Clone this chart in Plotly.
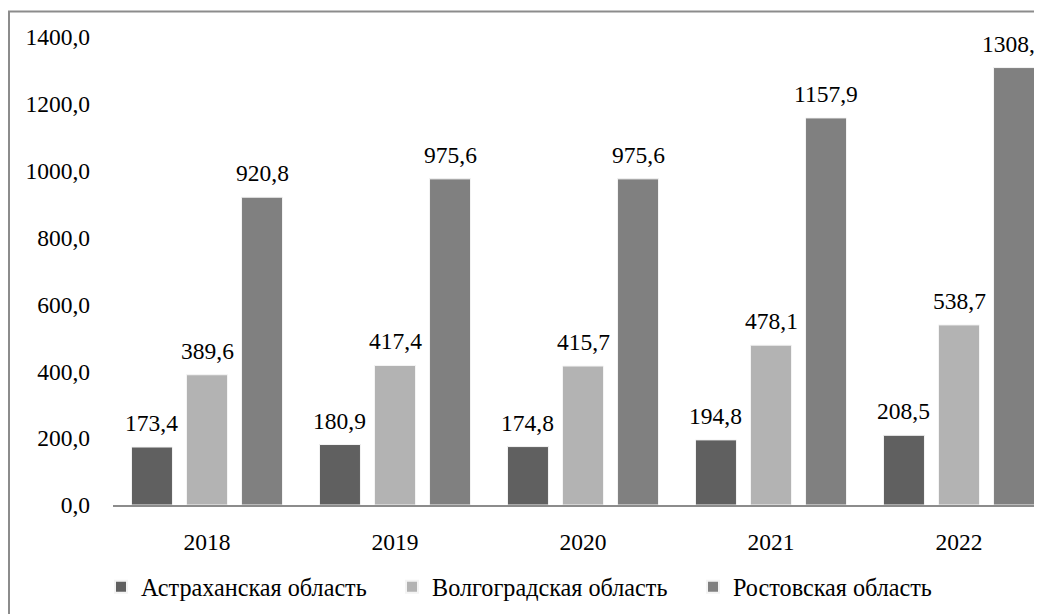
import plotly.graph_objects as go

years = ["2018", "2019", "2020", "2021", "2022"]
series_names = ["Астраханская область", "Волгоградская область", "Ростовская область"]
astrakhan = [173.4, 180.9, 174.8, 194.8, 208.5]
volgograd = [389.6, 417.4, 415.7, 478.1, 538.7]
rostov = [920.8, 975.6, 975.6, 1157.9, 1308.6]
y_ticks = [0, 200, 400, 600, 800, 1000, 1200, 1400]

series_values = [astrakhan, volgograd, rostov]
colors = ["#606060", "#b3b3b3", "#808080"]
legend_widths = [246, 256, 200]

FONT = "Liberation Serif"
FS = 23.5
FS_LEG = 24.2

# page body has an 8px margin; targets below are in screenshot pixels
OFF = 8
W, H = 1042, 614
L = 113 - OFF
T = 36.5 - OFF
AXIS_Y = 505 - OFF
B = H - AXIS_Y
plot_w = W - L
plot_h = H - T - B
cat_px = 188.0

fig = go.Figure()
for name, vals, col, lw in zip(series_names, series_values, colors, legend_widths):
    fig.add_trace(go.Bar(
        x=years, y=vals, name=name, legendwidth=lw,
        marker=dict(color=col, line=dict(color="#f4f4f4", width=1)),
    ))

bargap = 0.122
bargroupgap = 0.255
slot = (1 - bargap) / 3
annotations = []
for si, vals in enumerate(series_values):
    off = (si - 1) * slot
    for i, v in enumerate(vals):
        annotations.append(dict(
            x=i + off, y=v, xref="x", yref="y",
            text=f"{v:.1f}".replace(".", ","),
            showarrow=False, yanchor="bottom", yshift=9,
            font=dict(family=FONT, size=FS, color="#000000"),
        ))

def px_x(px):
    return (px - OFF - L) / plot_w

def px_y(py):
    return (AXIS_Y - (py - OFF)) / plot_h

fig.add_shape(type="rect", xref="paper", yref="paper",
              x0=px_x(9), x1=px_x(1200), y0=px_y(800), y1=px_y(11),
              line=dict(color="#8c8c8c", width=2), fillcolor="rgba(0,0,0,0)",
              layer="above")

x_max = -0.5 + plot_w / cat_px

fig.update_layout(
    width=W, height=H,
    margin=dict(l=L, r=0, t=T, b=B, pad=0),
    paper_bgcolor="white", plot_bgcolor="white",
    barmode="group", bargap=bargap, bargroupgap=bargroupgap,
    separators=", ",
    font=dict(family=FONT, size=FS, color="#000000"),
    annotations=annotations,
    showlegend=True,
    legend=dict(orientation="h", x=px_x(101), xanchor="left",
                y=px_y(587), yanchor="middle",
                font=dict(family=FONT, size=FS_LEG, color="#000000"),
                itemwidth=30, itemsizing="constant",
                bgcolor="rgba(0,0,0,0)"),
    xaxis=dict(type="category", range=[-0.5, x_max], showgrid=False,
               showline=True, linecolor="#8c8c8c", linewidth=2,
               ticks="", ticklabelstandoff=15, zeroline=False,
               tickfont=dict(family=FONT, size=FS, color="#000000")),
    yaxis=dict(range=[0, 1400], tickvals=y_ticks, tickformat=".1f",
               showgrid=False, showline=False, zeroline=False, ticks="",
               ticklabelstandoff=22,
               tickfont=dict(family=FONT, size=FS, color="#000000")),
)

fig.write_html("out.html")
